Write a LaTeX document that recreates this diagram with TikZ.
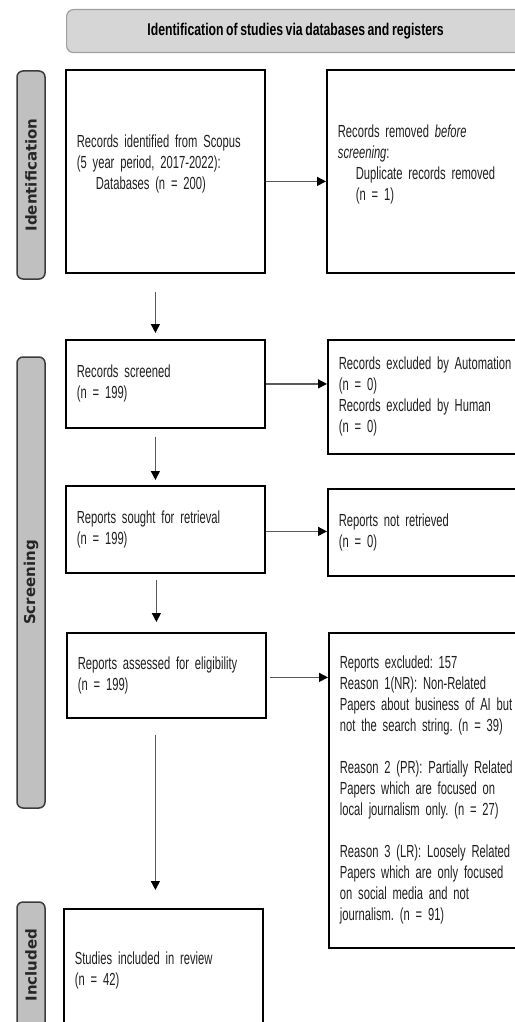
\documentclass[tikz,border=0pt]{standalone}
\usepackage{fontspec}
\setmainfont[FakeStretch=0.64]{Liberation Sans}
\newfontfamily\hdrfont[FakeStretch=0.72,WordSpace=0.75]{Liberation Sans}
\newfontfamily\sidefont{DejaVu Sans}
\usetikzlibrary{arrows.meta}
\definecolor{hdrfill}{RGB}{214,214,214}
\definecolor{hdrline}{RGB}{160,160,160}
\definecolor{sidefill}{RGB}{192,192,192}
\definecolor{sideline}{RGB}{60,60,60}
\definecolor{arrline}{RGB}{90,90,90}
\frenchspacing
\newcommand\bxfont{\fontsize{17.5}{21}\selectfont\frenchspacing\spaceskip 3.2pt plus 1pt minus 1pt\relax}
\tikzset{
  box/.style={draw=black, line width=1.8pt, anchor=north west, align=left,
    inner xsep=11pt, inner ysep=0pt, font=\bxfont, text=black!88},
  sidelab/.style={draw=sideline, fill=sidefill, line width=1.5pt, rounded corners=6pt,
    rotate=90, minimum height=28pt, inner sep=0pt,
    font=\sidefont\bfseries\fontsize{15}{18}\selectfont, text=black!85},
  arr/.style={draw=arrline, line width=1.4pt, -{Triangle[length=9pt,width=9pt,fill=black,color=black]}},
}
\begin{document}
\begin{tikzpicture}[x=1pt,y=-1pt]
\useasboundingbox (0,0) rectangle (514,1022);
% header
\node[draw=hdrline, fill=hdrfill, line width=1.2pt, rounded corners=7pt,
  minimum width=458pt, minimum height=43pt, anchor=north west, inner sep=0pt,
  font=\hdrfont\bfseries\fontsize{17}{20}\selectfont] (hdr) at (66,9)
  {Identification of studies via databases and registers};
% side labels
\node[sidelab, minimum width=208pt] (sid) at (31,175) {Identification};
\node[sidelab, minimum width=451pt] (sscr) at (31,582.5) {Screening};
\node[sidelab, minimum width=126pt] (sinc) at (31,965) {Included};
% left column
\node[box, minimum width=199pt, minimum height=203pt, text width=177pt] (b1) at (65,69)
  {Records identified from Scopus\\(5 year period, 2017-2022):\\\hspace*{19pt}Databases (n = 200)\\[-3pt]\mbox{}};
\node[box, minimum width=199pt, minimum height=88pt, text width=177pt] (b2) at (65,339)
  {Records screened\\(n = 199)};
\node[box, minimum width=199pt, minimum height=87pt, text width=177pt] (b3) at (65,485)
  {Reports sought for retrieval\\(n = 199)};
\node[box, minimum width=199pt, minimum height=85pt, text width=177pt] (b4) at (66,632)
  {Reports assessed for eligibility\\(n = 199)};
\node[box, minimum width=199pt, minimum height=124pt, text width=177pt] (b5) at (63,908)
  {Studies included in review\\(n = 42)};
% right column
\node[box, minimum width=214pt, minimum height=203pt, text width=192pt] (r1) at (326,69)
  {Records removed \textit{before}\\\textit{screening}:\\\hspace*{18pt}Duplicate records removed\\\hspace*{18pt}(n = 1)\\[-3pt]\mbox{}};
\node[box, minimum width=214pt, minimum height=114pt, text width=192pt] (r2) at (327,339)
  {Records excluded by Automation\\(n = 0)\\Records excluded by Human\\(n = 0)};
\node[box, minimum width=214pt, minimum height=87pt, text width=192pt] (r3) at (327,488)
  {Reports not retrieved\\(n = 0)};
\node[box, minimum width=214pt, minimum height=315pt, text width=192pt] (r4) at (328,632)
  {Reports excluded: 157\\Reason 1(NR): Non-Related\\Papers about business of AI but\\not the search string. (n = 39)\\[21pt]Reason 2 (PR): Partially Related\\Papers which are focused on\\local journalism only. (n = 27)\\[21pt]Reason 3 (LR): Loosely Related\\Papers which are only focused\\on social media and not\\journalism. (n = 91)};
% horizontal arrows
\draw[arr] ([yshift=-10pt]b1.east) -- ([yshift=-10pt]b1.east -| r1.west);
\draw[arr] (b2.east) -- (b2.east -| r2.west);
\draw[arr] ([yshift=-2pt]b3.east) -- ([yshift=-2pt]b3.east -| r3.west);
\draw[arr] ([xshift=3pt,yshift=-2pt]b4.east) -- ([yshift=-2pt]b4.east -| r4.west);
% vertical arrows
\draw[arr] ([xshift=-10pt,yshift=-18pt]b1.south) -- ([xshift=-10pt,yshift=6pt]b1.south |- b2.north);
\draw[arr] ([xshift=-10pt,yshift=-8pt]b2.south) -- ([xshift=-10pt,yshift=5pt]b2.south |- b3.north);
\draw[arr] ([xshift=-9pt,yshift=-6pt]b3.south) -- ([xshift=-9pt,yshift=10pt]b3.south |- b4.north);
\draw[arr] ([xshift=-11pt,yshift=-16pt]b4.south) -- ([xshift=-11pt,yshift=18pt]b4.south |- b5.north);
\end{tikzpicture}
\end{document}
